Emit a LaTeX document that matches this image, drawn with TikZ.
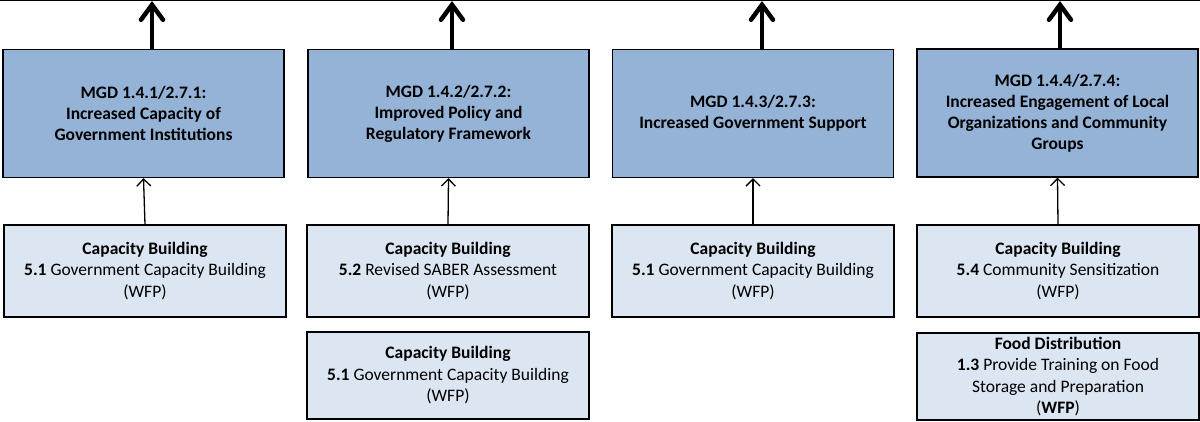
\documentclass[tikz,border=0pt]{standalone}
\usepackage{fontspec}
\setmainfont{Carlito}
\usetikzlibrary{arrows.meta}
\definecolor{mgdblue}{HTML}{95B3D7}
\definecolor{actblue}{HTML}{DCE6F2}
\tikzset{
  mgd/.style={draw=black, line width=1.3pt, fill=mgdblue, minimum width=281pt,
    minimum height=128pt, inner sep=0pt, align=center,
    font=\fontsize{17.5}{21}\selectfont\bfseries},
  act/.style={draw=black, line width=1.3pt, fill=actblue, minimum width=282pt,
    minimum height=92pt, inner sep=0pt, align=center,
    font=\fontsize{17.5}{21.5}\selectfont},
  goal/.style={line width=4.5pt, -{Straight Barb[length=15pt,width=22pt,line width=4.5pt,line cap=round]}},
  feed/.style={line width=1.3pt, -{Straight Barb[length=7pt,width=14pt,line width=1.3pt]}},
  topline/.style={line width=1.2pt}
}
\begin{document}
\begin{tikzpicture}[x=1pt,y=-1pt]
  \useasboundingbox (0,0) rectangle (1200,421);
  % upper edge line
  \coordinate (L) at (0,0.6);
  \coordinate (R) at (1200,0.6);
  \draw[topline] (L) -- (R);

  % result boxes
  \node[mgd] (m1) at (143.5,113.5) {MGD 1.4.1/2.7.1:\\Increased Capacity of\\Government Institutions};
  \node[mgd] (m2) at (448.5,113.5) {MGD 1.4.2/2.7.2:\\Improved Policy and\\Regulatory Framework};
  \node[mgd] (m3) at (753,113.5) {MGD 1.4.3/2.7.3:\\Increased Government Support};
  \node[mgd] (m4) at (1057.5,113) {MGD 1.4.4/2.7.4:\\Increased Engagement of Local\\Organizations and Community\\Groups};

  % activity boxes
  \node[act] (c1) at (145,271) {\textbf{Capacity Building}\\\textbf{5.1} Government Capacity Building\\(WFP)};
  \node[act] (c2) at (448,271) {\textbf{Capacity Building}\\\textbf{5.2} Revised SABER Assessment\\(WFP)};
  \node[act, minimum height=87pt] (c2b) at (448,375.5) {\textbf{Capacity Building}\\\textbf{5.1} Government Capacity Building\\(WFP)};
  \node[act] (c3) at (753,271) {\textbf{Capacity Building}\\\textbf{5.1} Government Capacity Building\\(WFP)};
  \node[act] (c4) at (1058,271) {\textbf{Capacity Building}\\\textbf{5.4} Community Sensitization\\(WFP)};
  \node[act, minimum height=87pt] (c4b) at (1058,376.5) {\textbf{Food Distribution}\\\textbf{1.3} Provide Training on Food\\Storage and Preparation\\(\textbf{WFP})};

  % upward links
  \coordinate (t1) at (152,1);
  \coordinate (t2) at (452,1);
  \coordinate (t3) at (762,1);
  \coordinate (t4) at (1060,1);
  \draw[goal] (m1.north -| t1) -- (t1);
  \draw[goal] (m2.north -| t2) -- (t2);
  \draw[goal] (m3.north -| t3) -- (t3);
  \draw[goal] (m4.north -| t4) -- (t4);

  % activity-to-result links
  \draw[feed] (c1.north) -- (m1.south);
  \draw[feed] (c2.north) -- (m2.south);
  \draw[feed] (c3.north) -- (m3.south);
  \draw[feed] (c4.north) -- (m4.south);
\end{tikzpicture}
\end{document}
